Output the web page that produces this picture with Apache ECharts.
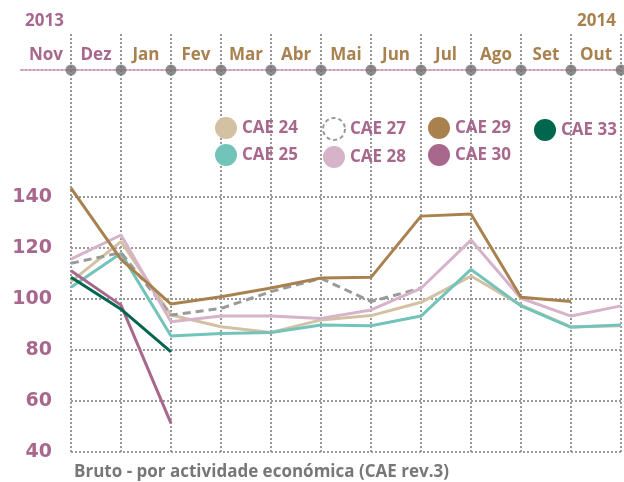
<!DOCTYPE html>
<html>
<head>
<meta charset="utf-8">
<script src="https://cdn.jsdelivr.net/npm/echarts@6/dist/echarts.min.js"></script>
<style>
html, body { margin: 0; padding: 0; background: #fff; }
#container { width: 624px; height: 482px; }
</style>
</head>
<body>
<div id="container"></div>
<script>
// months Nov 2013 .. Out 2014
var months = ['Nov', 'Dez', 'Jan', 'Fev', 'Mar', 'Abr', 'Mai', 'Jun', 'Jul', 'Ago', 'Set', 'Out'];
var yTicks = [40, 60, 80, 100, 120, 140];

var cae24 = [106.8, 122.5, 93.7, 89.1, 86.9, 91.8, 93.5, 98.7, 109, 97.6, 89.1, 89.5];
var cae25 = [104.6, 117.9, 85.5, 86.5, 86.9, 89.8, 89.5, 93.3, 111.6, 97.3, 88.9, 89.8];
var cae27 = [114, 118.2, 93.7, 96.3, 102.9, 108.1, 99, 104.2, null, null, null, null];
var cae28 = [115.6, 125.1, 91.1, 93.3, 93.3, 92.4, 95.7, 104.2, 123.1, 100.3, 93.3, 97.3];
var cae29 = [143.5, 115.5, 98, 100.9, 104.3, 108.2, 108.5, 132.5, 133.3, 100.7, 99, null];
var cae30 = [111.1, 97.6, 51.2, null, null, null, null, null, null, null, null, null];
var cae33 = [108.5, 96, 79.3, null, null, null, null, null, null, null, null, null];

var mauve = '#a8678c';
var brown = '#a8814f';
var font = 'Open Sans';
var dotted = [2, 2];

(function () {
    var myChart = echarts.init(document.getElementById('container'));

    function line(name, data, color, dashed) {
        return {
            name: name,
            type: 'line',
            xAxisIndex: 2,
            yAxisIndex: 2,
            data: data,
            symbol: 'none',
            clip: false,
            connectNulls: false,
            lineStyle: { color: color, width: 3, type: dashed ? [8, 5] : 'solid' },
            itemStyle: { color: color }
        };
    }

    function legendCol(left, top, names) {
        return {
            orient: 'vertical',
            left: left,
            top: top,
            icon: 'circle',
            itemWidth: 22,
            itemHeight: 22,
            itemGap: 5,
            selectedMode: false,
            textStyle: { color: mauve, fontSize: 17, fontWeight: 'bold', fontFamily: font },
            data: names
        };
    }

    var option = {
        animation: false,
        textStyle: { fontFamily: font },
        title: [
            { text: '2013', left: 20, top: 8, textStyle: { color: mauve, fontSize: 17, fontWeight: 'bold', fontFamily: font } },
            { text: '2014', right: 3, top: 8, textStyle: { color: brown, fontSize: 17, fontWeight: 'bold', fontFamily: font } },
            { text: 'Bruto - por actividade económica (CAE rev.3)', left: 69, top: 459,
              textStyle: { color: '#777', fontSize: 17, fontWeight: 'bold', fontFamily: font } }
        ],
        legend: [
            legendCol(210, 112, ['CAE 24', 'CAE 25']),
            legendCol(317, 112, [
                { name: 'CAE 27', itemStyle: { color: '#fff', borderColor: '#9a9a9a', borderWidth: 2, borderType: [4, 3] } },
                'CAE 28'
            ]),
            legendCol(423, 112, ['CAE 29', 'CAE 30']),
            legendCol(529, 114, ['CAE 33'])
        ],
        grid: [
            // vertical dotted lines, full height
            { left: 71, right: 3, top: 34, bottom: 30 },
            // month timeline
            { left: 21, right: 3, top: 70, height: 10 },
            // data
            { left: 71, right: 3, top: 197, bottom: 30 },
            // dots on the timeline
            { left: 71, right: 3, top: 65, height: 10 }
        ],
        xAxis: [
            {
                gridIndex: 0, type: 'category', boundaryGap: false, data: months,
                axisLine: { show: false }, axisTick: { show: false }, axisLabel: { show: false },
                splitLine: { show: true, lineStyle: { color: '#9a9a9a', width: 2, type: dotted } }
            },
            {
                gridIndex: 1, type: 'category', boundaryGap: true, data: months, position: 'top',
                axisLine: { show: true, onZero: false, lineStyle: { color: '#cf9dbc', width: 2, type: dotted } },
                axisTick: { show: false },
                splitLine: { show: false },
                axisLabel: {
                    interval: 0,
                    margin: 6,
                    fontSize: 17,
                    fontWeight: 'bold',
                    fontFamily: font,
                    formatter: function (v, i) { return i < 2 ? '{a|' + v + '}' : '{b|' + v + '}'; },
                    rich: {
                        a: { color: mauve, fontSize: 17, fontWeight: 'bold', fontFamily: font },
                        b: { color: brown, fontSize: 17, fontWeight: 'bold', fontFamily: font }
                    }
                }
            },
            {
                gridIndex: 2, type: 'category', boundaryGap: false, data: months,
                axisLine: { show: false }, axisTick: { show: false }, axisLabel: { show: false },
                splitLine: { show: false }
            },
            {
                gridIndex: 3, type: 'category', boundaryGap: false, data: months, show: false
            }
        ],
        yAxis: [
            { gridIndex: 0, type: 'value', min: 0, max: 1, show: false },
            { gridIndex: 1, type: 'value', min: 0, max: 1, show: false },
            {
                gridIndex: 2, type: 'value', min: yTicks[0], max: yTicks[yTicks.length - 1], interval: 20,
                axisLine: { show: false }, axisTick: { show: false },
                axisLabel: { color: mauve, fontSize: 19, fontWeight: 'bold', fontFamily: 'DejaVu Sans', margin: 19 },
                splitLine: { show: true, lineStyle: { color: '#9a9a9a', width: 2, type: dotted } }
            },
            { gridIndex: 3, type: 'value', min: -1, max: 1, show: false }
        ],
        series: [
            {
                name: 'dots', type: 'scatter', xAxisIndex: 3, yAxisIndex: 3,
                data: months.map(function () { return 0; }),
                symbolSize: 11, itemStyle: { color: '#707070' }, silent: true
            },
            line('CAE 24', cae24, '#d4c0a2'),
            line('CAE 25', cae25, '#72c4ba'),
            line('CAE 27', cae27, '#9a9a9a', true),
            line('CAE 28', cae28, '#d6b3c8'),
            line('CAE 29', cae29, brown),
            line('CAE 30', cae30, mauve),
            line('CAE 33', cae33, '#00664d')
        ]
    };
    myChart.setOption(option);
})();
</script>
</body>
</html>
